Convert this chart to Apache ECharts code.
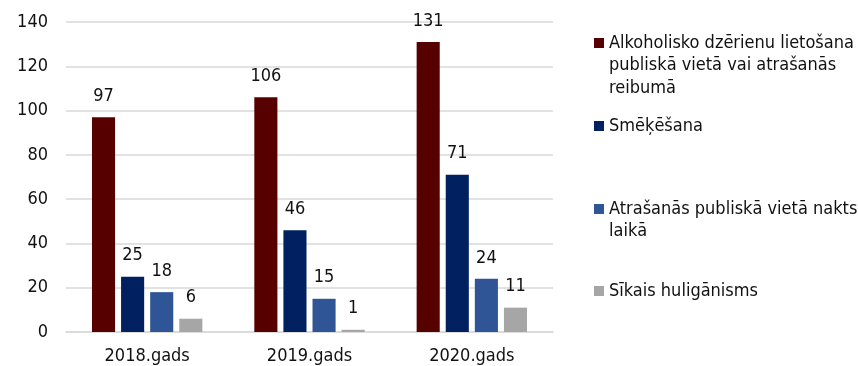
<!DOCTYPE html>
<html><head><meta charset="utf-8">
<script src="https://cdn.jsdelivr.net/npm/echarts@6/dist/echarts.min.js"></script>
<style>html,body{margin:0;padding:0;background:#fff}#c{width:858px;height:366px}</style>
</head><body><div id="c"></div>
<script>
const categories = ['2018.gads', '2019.gads', '2020.gads'];
const seriesNames = [
  'Alkoholisko dzērienu lietošana publiskā vietā vai atrašanās reibumā',
  'Smēķēšana',
  'Atrašanās publiskā vietā nakts laikā',
  'Sīkais huligānisms'
];
const legendLines = [
  'Alkoholisko dzērienu lietošana\npubliskā vietā vai atrašanās\nreibumā',
  'Smēķēšana',
  'Atrašanās publiskā vietā nakts\nlaikā',
  'Sīkais huligānisms'
];
const alcohol = [97, 106, 131];
const smoking = [25, 46, 71];
const night = [18, 15, 24];
const hooligan = [6, 1, 11];
const yTicks = [0, 20, 40, 60, 80, 100, 120, 140];

const FONT = '"DejaVu Sans Condensed", "DejaVu Sans", sans-serif';
const colors = ['#560000', '#002060', '#2F5597', '#A6A6A6'];
const values = [alcohol, smoking, night, hooligan];
const LH = 22.5;
const iconCenters = [43, 126, 209, 291];

const chart = echarts.init(document.getElementById('c'));
chart.setOption({
  animation: false,
  textStyle: {fontFamily: FONT},
  grid: {left: 66, right: 305, top: 22, bottom: 34},
  legend: seriesNames.map((n, i) => {
    const nLines = legendLines[i].split('\n').length;
    const blockH = (2 * nLines - 1) * LH;
    return {
      data: [n],
      orient: 'vertical',
      left: 594,
      top: iconCenters[i] - blockH / 2,
      padding: 0,
      itemWidth: 10,
      itemHeight: 10,
      icon: 'rect',
      selectedMode: false,
      formatter: () => '\u200b\n'.repeat(nLines - 1) + legendLines[i],
      textStyle: {fontFamily: FONT, fontSize: 18, color: '#111', lineHeight: LH}
    };
  }),
  xAxis: {
    type: 'category',
    data: categories,
    axisLine: {lineStyle: {color: '#d9d9d9', width: 1.5}},
    axisTick: {show: false},
    axisLabel: {fontFamily: FONT, fontSize: 18, color: '#111', margin: 15}
  },
  yAxis: {
    type: 'value',
    min: yTicks[0],
    max: yTicks[yTicks.length - 1],
    interval: 20,
    axisLine: {show: false},
    axisTick: {show: false},
    splitLine: {lineStyle: {color: '#d9d9d9', width: 1.5}},
    axisLabel: {fontFamily: FONT, fontSize: 18, color: '#111', margin: 18}
  },
  series: seriesNames.map((n, i) => ({
    name: n,
    type: 'bar',
    data: values[i],
    barGap: '26%',
    barCategoryGap: '32%',
    itemStyle: {color: colors[i]},
    label: {show: true, position: 'top', distance: 12, fontFamily: FONT, fontSize: 18, color: '#111'}
  }))
});
</script></body></html>
